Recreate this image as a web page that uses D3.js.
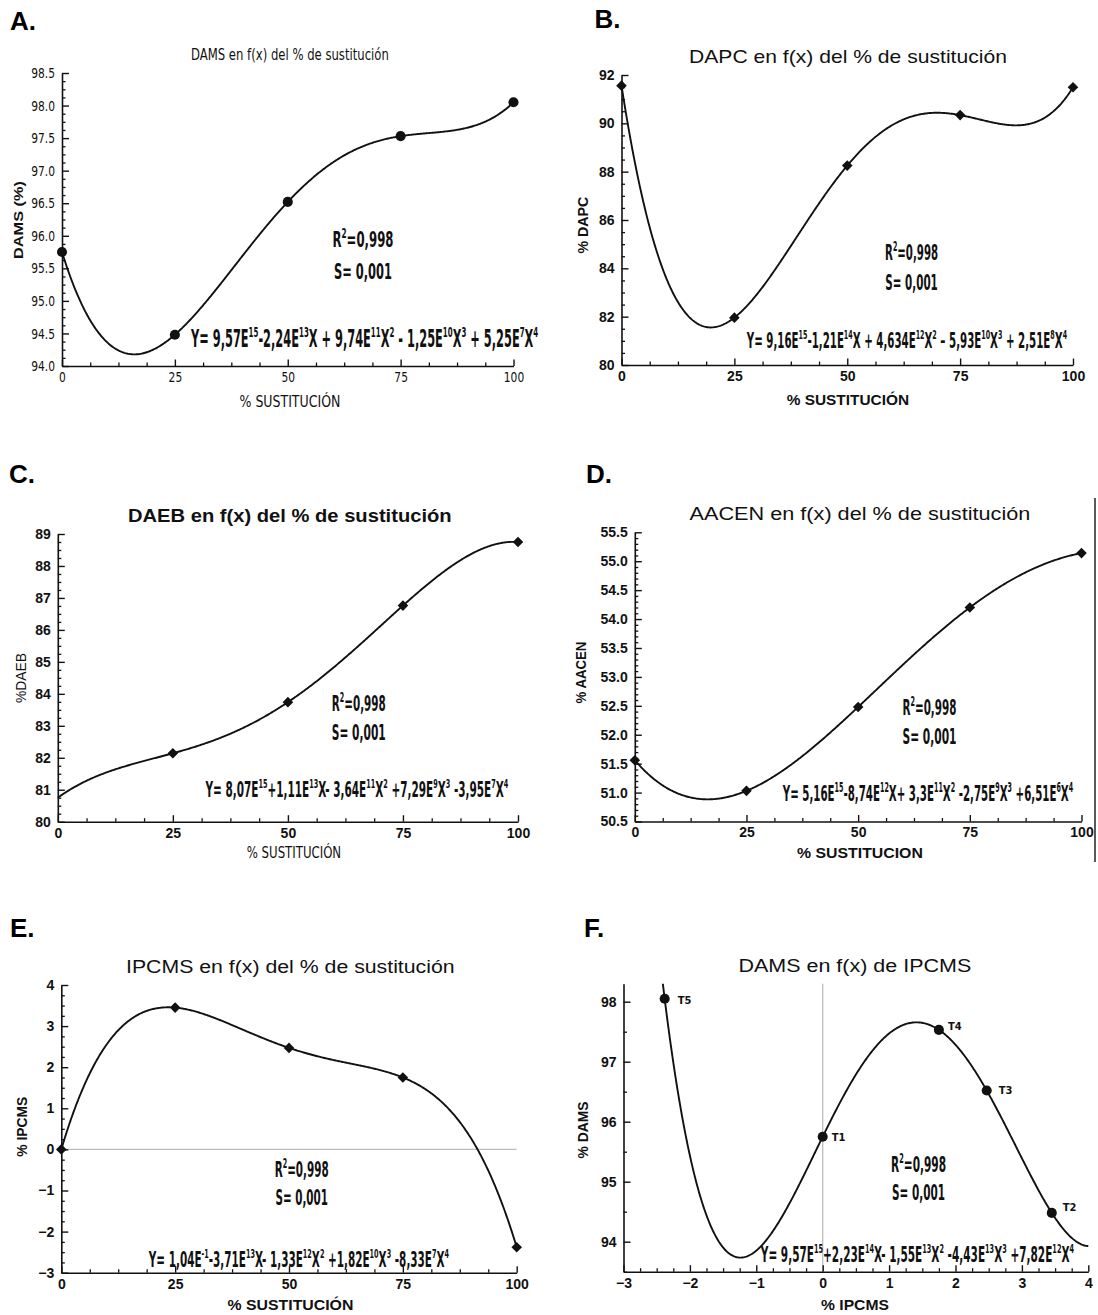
<!DOCTYPE html>
<html><head><meta charset="utf-8">
<script src="https://cdn.jsdelivr.net/npm/d3@7"></script>
<style>body{margin:0;background:#fff}svg{display:block}</style>
</head><body>
<svg id="c" width="1098" height="1315"></svg>
<script>
// ---------------- DATA ----------------
const pctSust = [0, 25, 50, 75, 100];
const dams   = [95.75, 94.48, 96.52, 97.53, 98.05];
const dapc   = [91.56, 81.96, 88.25, 90.34, 91.49];
const daeb   = [80.75, 82.14, 83.74, 86.76, 88.75];
const aacen  = [51.56, 51.03, 52.48, 54.20, 55.14];
const ipcms  = [0, 3.45, 2.47, 1.75, -2.38];
const treatLabels = ["T1", "T2", "T3", "T4", "T5"];

const xTicksPct   = [0, 25, 50, 75, 100];
const xTicksIpcms = [-3, -2, -1, 0, 1, 2, 3, 4];
const yTicksDams  = [94.0, 94.5, 95.0, 95.5, 96.0, 96.5, 97.0, 97.5, 98.0, 98.5];
const yTicksDapc  = [80, 82, 84, 86, 88, 90, 92];
const yTicksDaeb  = [80, 81, 82, 83, 84, 85, 86, 87, 88, 89];
const yTicksAacen = [50.5, 51.0, 51.5, 52.0, 52.5, 53.0, 53.5, 54.0, 54.5, 55.0, 55.5];
const yTicksIpcms = [-3, -2, -1, 0, 1, 2, 3, 4];
const yTicksDamsF = [94, 95, 96, 97, 98];

const panelLetters = ["A.", "B.", "C.", "D.", "E.", "F."];
const titles = [
  "DAMS en f(x) del % de sustitución",
  "DAPC en f(x) del % de sustitución",
  "DAEB en f(x) del % de sustitución",
  "AACEN en f(x) del % de sustitución",
  "IPCMS en f(x) del % de sustitución",
  "DAMS en f(x) de IPCMS"
];
const yLabels = ["DAMS (%)", "% DAPC", "%DAEB", "% AACEN", "% IPCMS", "% DAMS"];
const xLabels = ["% SUSTITUCIÓN", "% SUSTITUCIÓN", "% SUSTITUCIÓN", "% SUSTITUCION", "% SUSTITUCIÓN", "% IPCMS"];
const equations = [
  "Y= 9,57E^{15}-2,24E^{13}X + 9,74E^{11}X^{2} - 1,25E^{10}X^{3} + 5,25E^{7}X^{4}",
  "Y= 9,16E^{15}-1,21E^{14}X + 4,634E^{12}X^{2} – 5,93E^{10}X^{3} + 2,51E^{8}X^{4}",
  "Y= 8,07E^{15}+1,11E^{13}X- 3,64E^{11}X^{2} +7,29E^{9}X^{3} -3,95E^{7}X^{4}",
  "Y= 5,16E^{15}-8,74E^{12}X+ 3,3E^{11}X^{2} -2,75E^{9}X^{3} +6,51E^{6}X^{4}",
  "Y= 1,04E^{-1}-3,71E^{13}X- 1,33E^{12}X^{2} +1,82E^{10}X^{3} -8,33E^{7}X^{4}",
  "Y= 9,57E^{15}+2,23E^{14}X- 1,55E^{13}X^{2} -4,43E^{13}X^{3} +7,82E^{12}X^{4}"
];
const r2Text = "R^{2}=0,998";
const sText = "S= 0,001";

// ---------------- STYLE / LAYOUT ----------------
const SANS = "'Liberation Sans', Arial, Helvetica, sans-serif";
const COND = "'Liberation Sans Narrow', 'Arial Narrow', 'DejaVu Sans Condensed', sans-serif";

const svg = d3.select("#c");

const layout = [
  { // A
    xs: pctSust, ys: dams, x0: 62, x1: 513.5, yT: 73, yB: 366, xDom: [0, 100], yDom: [94, 98.5],
    xTicks: xTicksPct, yTicks: yTicksDams, xMinor: 6.25, yMinor: 0.125, yFmt: ".1f", xFmt: "d",
    tickFont: COND, tickWeight: "normal", tickSize: 14.5, tickScaleX: 0.82, marker: "circle",
    letter: [10, 30], title: [290, 60, 198, 16, "normal", COND],
    ylab: [220, 23, 78, 13, "bold", SANS], xlab: [290, 407, 101, 15, "normal", COND],
    r2: [363, 247, 61, 279, 58], eq: [191, 347, 348, 24], curve: [0, 100]
  },
  { // B
    xs: pctSust, ys: dapc, x0: 621.5, x1: 1073, yT: 75, yB: 365, xDom: [0, 100], yDom: [80, 92],
    xTicks: xTicksPct, yTicks: yTicksDapc, xMinor: 6.25, yMinor: 0.5, yFmt: "d", xFmt: "d",
    tickFont: SANS, tickWeight: "bold", tickSize: 14, marker: "diamond",
    letter: [594.5, 28], title: [848, 63, 318, 19, "normal", SANS],
    ylab: [225, 588, 57, 15, "bold", SANS], xlab: [848, 405, 122.5, 15, "bold", SANS],
    r2: [911.6, 260, 53, 290, 52.5], eq: [746.8, 348, 321, 21], curve: [0, 100]
  },
  { // C
    xs: pctSust, ys: daeb, x0: 57.8, x1: 518, yT: 534, yB: 821.7, xDom: [0, 100], yDom: [80, 89],
    xTicks: xTicksPct, yTicks: yTicksDaeb, xMinor: 6.25, yMinor: 0.25, yFmt: "d", xFmt: "d",
    tickFont: SANS, tickWeight: "bold", tickSize: 14, marker: "diamond", hideFirst: true,
    letter: [9, 483], title: [290, 522, 324, 19, "bold", SANS],
    ylab: [678, 26, 50, 15, "normal", SANS], xlab: [294, 858, 94.5, 15, "normal", COND],
    r2: [358.8, 711, 54, 740, 54], eq: [205.5, 797, 303.5, 21], curve: [0, 100]
  },
  { // D
    xs: pctSust, ys: aacen, x0: 634.8, x1: 1081.5, yT: 532.3, yB: 821.5, xDom: [0, 100], yDom: [50.5, 55.5],
    xTicks: xTicksPct, yTicks: yTicksAacen, xMinor: 6.25, yMinor: 0.1, yFmt: ".1f", xFmt: "d",
    tickFont: SANS, tickWeight: "bold", tickSize: 14, marker: "diamond",
    letter: [586, 483], title: [860, 520, 341, 19, "normal", SANS],
    ylab: [672.5, 586, 62, 15, "bold", SANS], xlab: [860, 858, 126, 15, "bold", SANS],
    r2: [929.5, 715, 54, 744, 54], eq: [782.8, 801, 291, 22], curve: [0, 100], borderLine: true
  },
  { // E
    xs: pctSust, ys: ipcms, x0: 61.3, x1: 516.7, yT: 985, yB: 1272.7, xDom: [0, 100], yDom: [-3, 4],
    xTicks: xTicksPct, yTicks: yTicksIpcms, xMinor: 6.25, yMinor: 0.25, yFmt: "d", xFmt: "d",
    tickFont: SANS, tickWeight: "bold", tickSize: 14, marker: "diamond", zeroH: true,
    letter: [10, 937], title: [290.5, 973, 329, 19, "normal", SANS],
    ylab: [1126.7, 26.5, 60, 15, "bold", SANS], xlab: [290.5, 1310, 126, 15, "bold", SANS],
    r2: [301.7, 1177, 54, 1205, 52.5], eq: [148.8, 1267, 301, 21], curve: [0, 100]
  },
  { // F
    xs: ipcms, ys: dams, x0: 623.5, x1: 1088.3, yT: 983.7, yB: 1271.7, xDom: [-3, 4], yDom: [93.5, 98.3],
    xTicks: xTicksIpcms, yTicks: yTicksDamsF, xMinor: 0.25, yMinor: 0.5, yFmt: "d", xFmt: "d",
    tickFont: SANS, tickWeight: "bold", tickSize: 14, marker: "circle", zeroV: true, pointLabels: true,
    letter: [584, 937], title: [855, 972, 233, 19, "normal", SANS],
    ylab: [1130, 587.5, 57, 15, "bold", SANS], xlab: [855, 1310, 68, 15, "bold", SANS],
    r2: [918.6, 1172, 55, 1200, 53], eq: [760.8, 1262, 314, 21], curve: [-3, 4]
  }
];
const labelNudge = [[9, 4], [11, -2], [12, 3], [9, 0], [13, 5]];

// ---------------- HELPERS ----------------
function lagrange(xs, ys) {
  return x => {
    let s = 0;
    for (let i = 0; i < xs.length; i++) {
      let p = ys[i];
      for (let j = 0; j < xs.length; j++) if (j !== i) p *= (x - xs[j]) / (xs[i] - xs[j]);
      s += p;
    }
    return s;
  };
}
function richText(parent, str, fs, family, weight) {
  const t = parent.append("text")
    .attr("x", 0).attr("y", 0)
    .style("font-family", family).style("font-weight", weight)
    .style("font-size", fs + "px").attr("fill", "#111");
  const re = /\^\{([^}]*)\}/g;
  let last = 0, m, shifted = false;
  const add = (s, sup) => {
    const ts = t.append("tspan").text(s);
    if (sup) { ts.attr("dy", shifted ? 0 : -0.42 * fs).style("font-size", (0.62 * fs) + "px"); shifted = true; }
    else if (shifted) { ts.attr("dy", 0.42 * fs); shifted = false; }
  };
  while ((m = re.exec(str))) {
    if (m.index > last) add(str.slice(last, m.index), false);
    add(m[1], true);
    last = re.lastIndex;
  }
  if (last < str.length) add(str.slice(last), false);
  return t;
}
function fitText(t, x, y, w, anchor, rot) {
  const bw = t.node().getBBox().width || 1;
  const sx = w / bw;
  const left = anchor === "middle" ? -w / 2 : 0;
  t.attr("transform", `translate(${x},${y})${rot ? ` rotate(${rot})` : ""} translate(${left},0) scale(${sx},1)`);
  return t;
}
function minorValues(dom, step, majors) {
  const out = [];
  const n = Math.round((dom[1] - dom[0]) / step);
  for (let i = 0; i <= n; i++) {
    const v = +(dom[0] + i * step).toFixed(6);
    if (v > dom[1] + 1e-9) break;
    if (!majors.some(mj => Math.abs(mj - v) < 1e-6)) out.push(v);
  }
  return out;
}

// ---------------- DRAW ----------------
layout.forEach((cfg, idx) => {
  const g = svg.append("g");
  const x = d3.scaleLinear().domain(cfg.xDom).range([cfg.x0, cfg.x1]);
  const y = d3.scaleLinear().domain(cfg.yDom).range([cfg.yB, cfg.yT]);

  // reference lines
  if (cfg.zeroH) g.append("line").attr("x1", cfg.x0).attr("x2", cfg.x1).attr("y1", y(0)).attr("y2", y(0))
    .attr("stroke", "#bdbdbd").attr("stroke-width", 1.3);
  if (cfg.zeroV) g.append("line").attr("x1", x(0)).attr("x2", x(0)).attr("y1", cfg.yT).attr("y2", cfg.yB)
    .attr("stroke", "#bdbdbd").attr("stroke-width", 1.3);

  // minor ticks
  g.append("g").attr("transform", `translate(0,${cfg.yB})`)
    .call(d3.axisBottom(x).tickValues(minorValues(cfg.xDom, cfg.xMinor, cfg.xTicks)).tickSize(-3.5).tickFormat(""))
    .call(s => s.select(".domain").remove())
    .selectAll("line").attr("stroke", "#111").attr("stroke-width", 1.3);
  g.append("g").attr("transform", `translate(${cfg.x0},0)`)
    .call(d3.axisLeft(y).tickValues(minorValues(cfg.yDom, cfg.yMinor, cfg.yTicks).filter(v => v >= cfg.yDom[0] && v <= cfg.yDom[1])).tickSize(-3.5).tickFormat(""))
    .call(s => s.select(".domain").remove())
    .selectAll("line").attr("stroke", "#111").attr("stroke-width", 1.3);

  // major axes
  const xa = g.append("g").attr("transform", `translate(0,${cfg.yB})`)
    .call(d3.axisBottom(x).tickValues(cfg.xTicks).tickSizeInner(-6.5).tickSizeOuter(0).tickPadding(6).tickFormat(d3.format(cfg.xFmt)));
  const ya = g.append("g").attr("transform", `translate(${cfg.x0},0)`)
    .call(d3.axisLeft(y).tickValues(cfg.yTicks).tickSizeInner(-7).tickSizeOuter(0).tickPadding(7).tickFormat(d3.format(cfg.yFmt)));
  [xa, ya].forEach(a => {
    a.attr("font-family", cfg.tickFont).attr("font-size", cfg.tickSize).attr("font-weight", cfg.tickWeight);
    a.select(".domain").attr("stroke", "#111").attr("stroke-width", 1.6);
    a.selectAll(".tick line").attr("stroke", "#111").attr("stroke-width", 1.4);
    a.selectAll(".tick text").attr("fill", "#111");
  });
  if (cfg.tickScaleX) {
    ya.selectAll(".tick text").each(function () {
      const t = d3.select(this); const tx = +t.attr("x");
      t.attr("transform", `translate(${tx},0) scale(${cfg.tickScaleX},1) translate(${-tx},0)`);
    });
    xa.selectAll(".tick text").attr("transform", `scale(${cfg.tickScaleX},1)`);
  }

  // fitted curve
  const f = lagrange(cfg.xs, cfg.ys);
  const N = 500;
  const pts = d3.range(N + 1).map(i => {
    const xv = cfg.curve[0] + (cfg.curve[1] - cfg.curve[0]) * i / N;
    return [xv, f(xv)];
  });
  const clipId = "clip" + idx;
  svg.append("defs").append("clipPath").attr("id", clipId).append("rect")
    .attr("x", cfg.x0 - 2).attr("y", cfg.yT).attr("width", cfg.x1 - cfg.x0 + 4).attr("height", cfg.yB - cfg.yT);
  g.append("path").datum(pts)
    .attr("clip-path", `url(#${clipId})`)
    .attr("fill", "none").attr("stroke", "#111").attr("stroke-width", 1.9)
    .attr("d", d3.line().x(d => x(d[0])).y(d => y(d[1])));

  // markers
  const sym = cfg.marker === "circle" ? d3.symbol(d3.symbolCircle, 80) : d3.symbol(d3.symbolSquare, 56);
  cfg.xs.forEach((xv, i) => {
    if (cfg.hideFirst && i === 0) return;
    g.append("path").attr("d", sym())
      .attr("transform", `translate(${x(xv)},${y(cfg.ys[i])})${cfg.marker === "diamond" ? " rotate(45)" : ""}`)
      .attr("fill", "#111");
    if (cfg.pointLabels) {
      g.append("text").text(treatLabels[i])
        .attr("x", x(xv) + labelNudge[i][0]).attr("y", y(cfg.ys[i]) + labelNudge[i][1])
        .style("font-family", COND).style("font-weight", "bold").style("font-size", "11px").attr("fill", "#111");
    }
  });

  // panel letter
  svg.append("text").text(panelLetters[idx]).attr("x", cfg.letter[0]).attr("y", cfg.letter[1])
    .style("font-family", SANS).style("font-weight", "bold").style("font-size", "26px").attr("fill", "#000");

  // title
  const tt = cfg.title;
  fitText(richText(svg, titles[idx], tt[3], tt[5], tt[4]), tt[0], tt[1], tt[2], "middle");

  // axis labels
  const yl = cfg.ylab;
  fitText(richText(svg, yLabels[idx], yl[3], yl[5], yl[4]), yl[1], yl[0], yl[2], "middle", -90);
  const xl = cfg.xlab;
  fitText(richText(svg, xLabels[idx], xl[3], xl[5], xl[4]), xl[0], xl[1], xl[2], "middle");

  // statistics
  const r = cfg.r2;
  fitText(richText(svg, r2Text, 22, COND, "bold"), r[0], r[1], r[2], "middle");
  fitText(richText(svg, sText, 22, COND, "bold"), r[0], r[3], r[4], "middle");

  // equation
  const e = cfg.eq;
  fitText(richText(svg, equations[idx], e[3], COND, "bold"), e[0], e[1], e[2], "start");

  if (cfg.borderLine) svg.append("line").attr("x1", 1095).attr("x2", 1095).attr("y1", 498).attr("y2", 862)
    .attr("stroke", "#222").attr("stroke-width", 1.5);
});
</script>
</body></html>
